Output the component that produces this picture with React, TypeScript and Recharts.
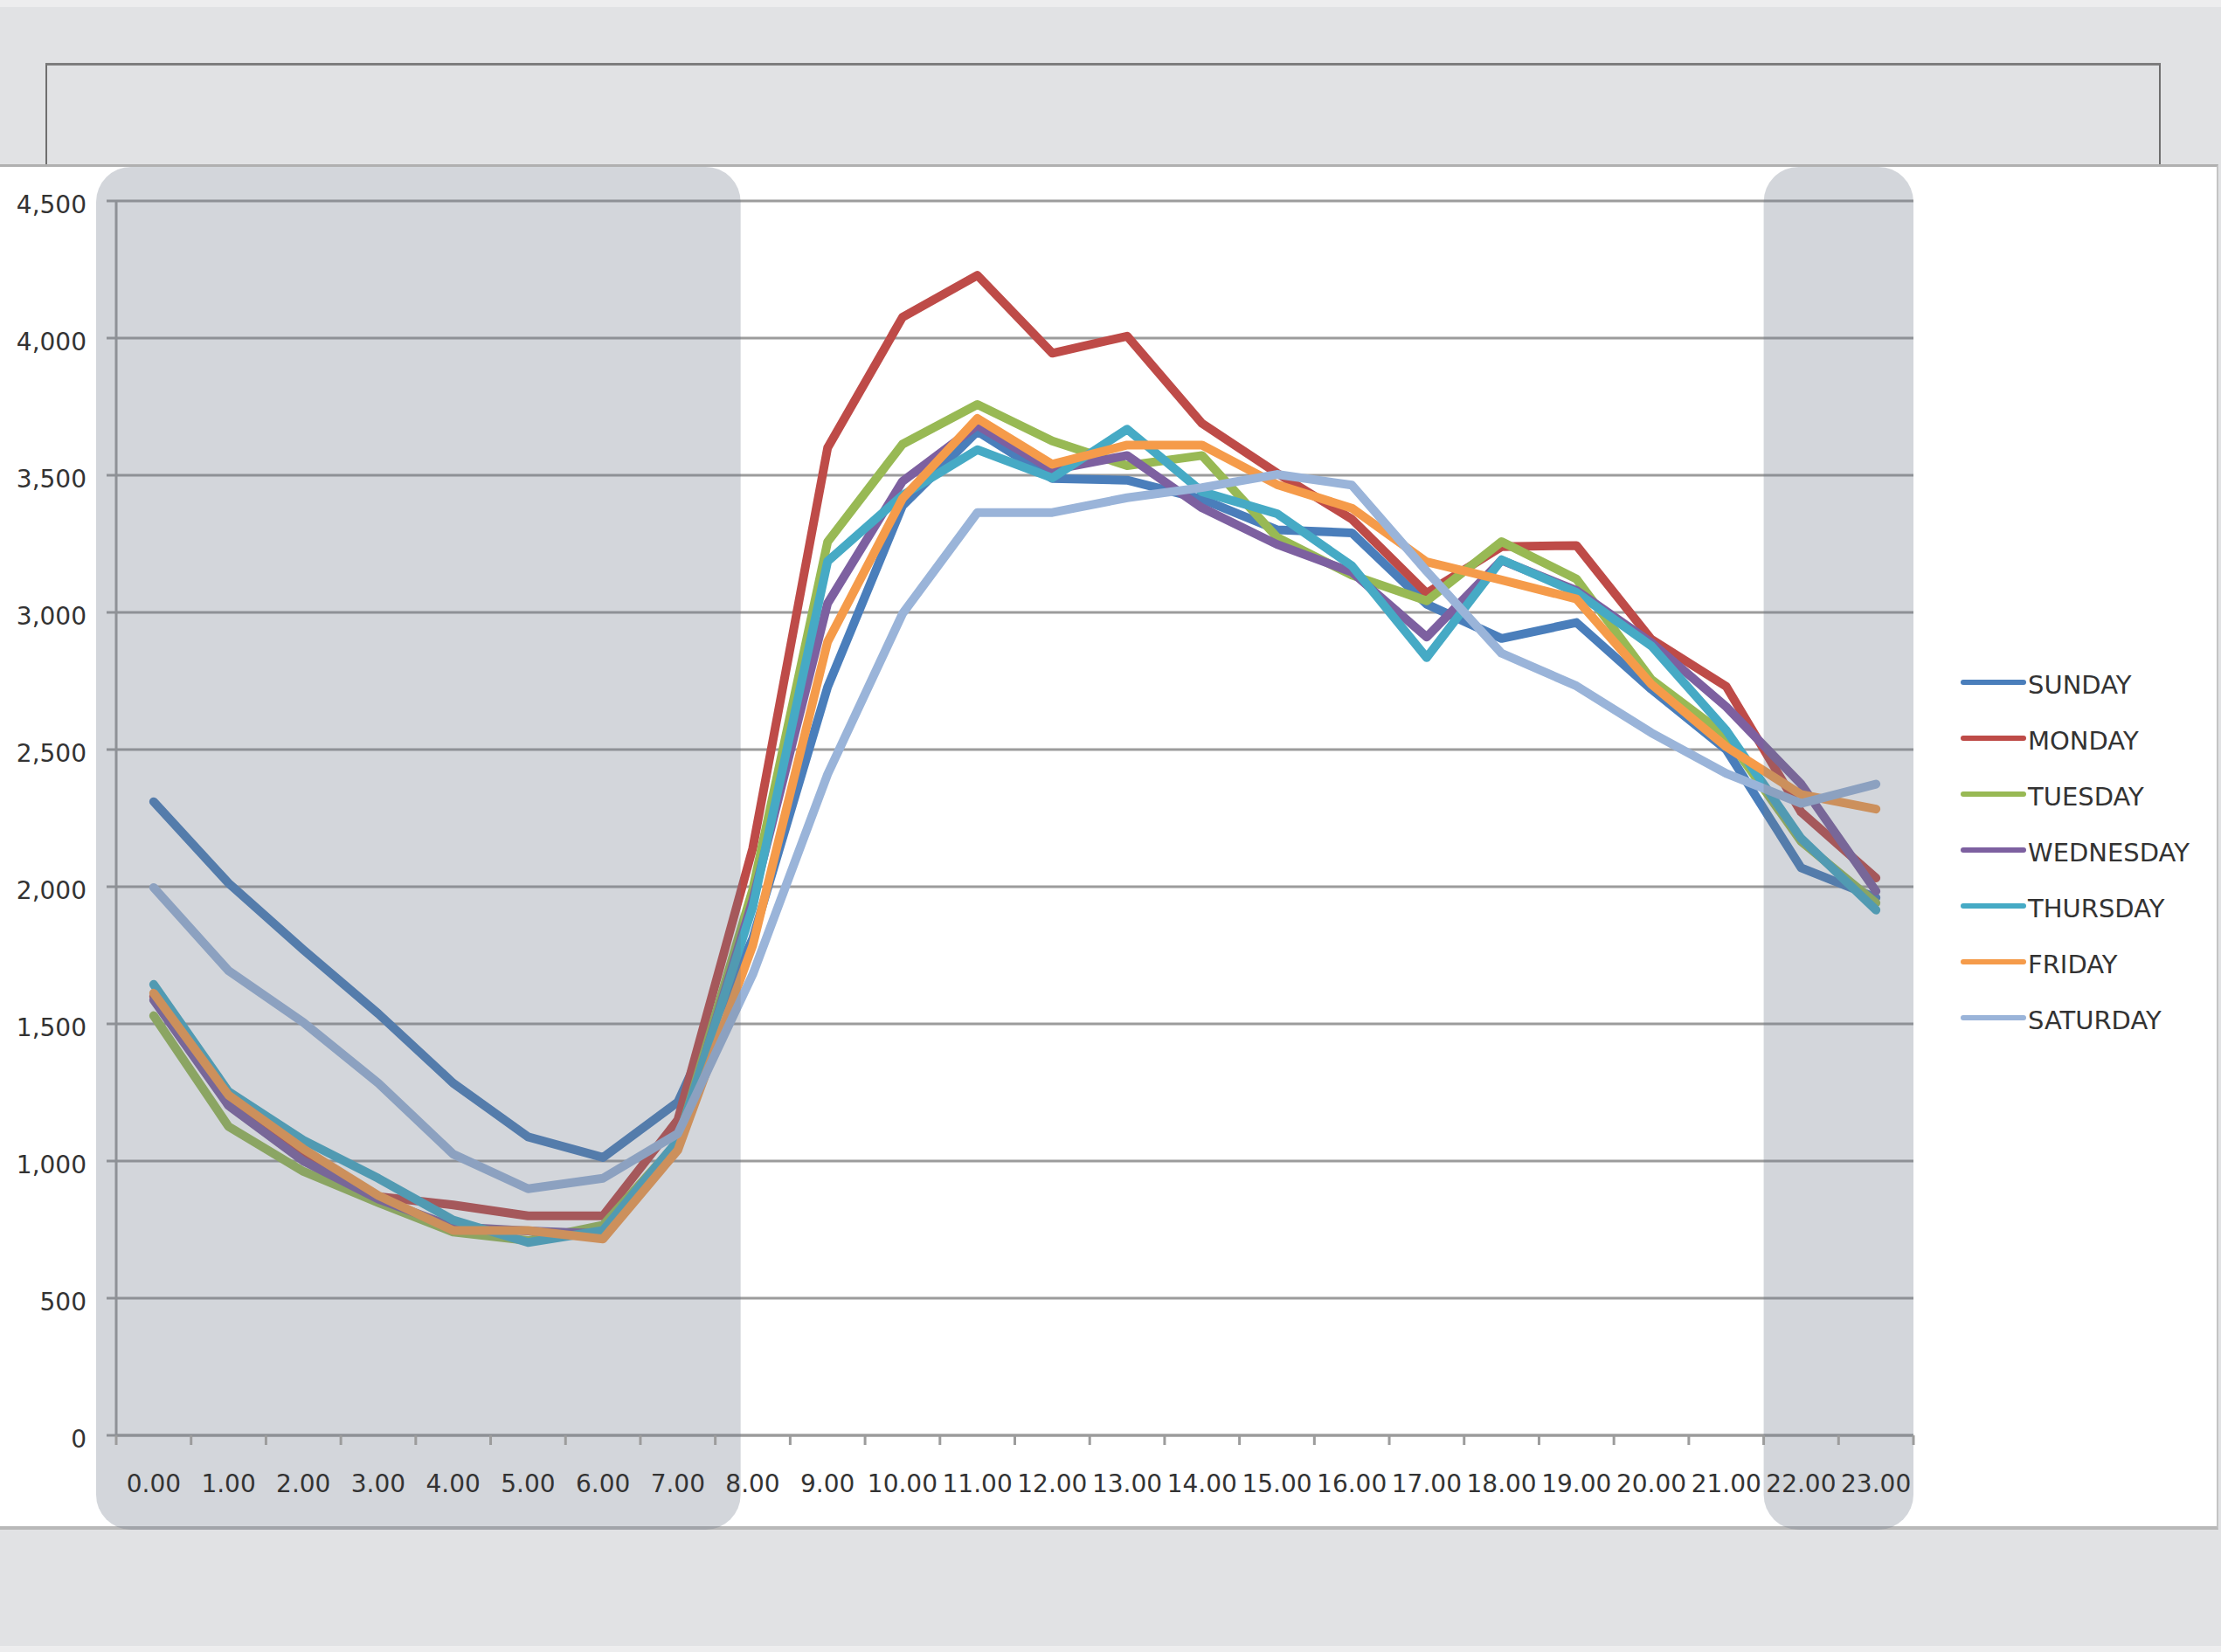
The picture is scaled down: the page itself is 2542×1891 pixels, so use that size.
import React from 'react';
import { LineChart, Line, XAxis, YAxis, CartesianGrid, Legend, ReferenceArea } from 'recharts';

const HOURS = ['0.00','1.00','2.00','3.00','4.00','5.00','6.00','7.00','8.00','9.00','10.00','11.00','12.00','13.00','14.00','15.00','16.00','17.00','18.00','19.00','20.00','21.00','22.00','23.00'];

const SUNDAY = [2310, 2013, 1770, 1537, 1284, 1088, 1013, 1215, 1811, 2728, 3389, 3660, 3488, 3482, 3413, 3301, 3290, 3030, 2905, 2963, 2720, 2500, 2069, 1960];
const MONDAY = [1600, 1230, 1030, 870, 840, 800, 800, 1150, 2140, 3600, 4076, 4229, 3945, 4007, 3689, 3508, 3340, 3070, 3240, 3244, 2902, 2730, 2272, 2032];
const TUESDAY = [1530, 1126, 962, 848, 741, 710, 766, 1070, 1990, 3257, 3613, 3758, 3625, 3535, 3572, 3274, 3136, 3042, 3258, 3122, 2756, 2550, 2165, 1941];
const WEDNESDAY = [1587, 1202, 1000, 861, 760, 745, 735, 1060, 1950, 3033, 3478, 3682, 3520, 3572, 3381, 3248, 3147, 2910, 3190, 3080, 2890, 2656, 2374, 1984];
const THURSDAY = [1644, 1253, 1076, 937, 785, 703, 747, 1075, 1926, 3186, 3427, 3593, 3490, 3668, 3440, 3360, 3170, 2835, 3192, 3073, 2878, 2570, 2176, 1915];
const FRIDAY = [1612, 1240, 1044, 874, 747, 747, 716, 1040, 1786, 2893, 3415, 3707, 3540, 3610, 3610, 3466, 3380, 3184, 3118, 3049, 2738, 2510, 2336, 2283];
const SATURDAY = [1997, 1694, 1505, 1284, 1025, 899, 937, 1100, 1680, 2410, 2995, 3364, 3364, 3418, 3455, 3503, 3464, 3150, 2851, 2732, 2561, 2413, 2304, 2374];

const Y_TICKS = [0, 500, 1000, 1500, 2000, 2500, 3000, 3500, 4000, 4500];

const SERIES = [
  { key: 'SUNDAY', values: SUNDAY, color: '#4a7ebb' },
  { key: 'MONDAY', values: MONDAY, color: '#be4b48' },
  { key: 'TUESDAY', values: TUESDAY, color: '#98b954' },
  { key: 'WEDNESDAY', values: WEDNESDAY, color: '#7d60a0' },
  { key: 'THURSDAY', values: THURSDAY, color: '#46aac5' },
  { key: 'FRIDAY', values: FRIDAY, color: '#f59b4a' },
  { key: 'SATURDAY', values: SATURDAY, color: '#9ab4d9' },
];
const SERIES_ORDER = SERIES.map((s) => s.key);

const data = HOURS.map((h, i) => {
  const row: any = { hour: h };
  SERIES.forEach((s) => { row[s.key] = s.values[i]; });
  return row;
});

const FONT = '"DejaVu Sans", "Liberation Sans", sans-serif';
const GRID = '#9c9c9c';
const TEXT = '#333333';
const PLOT_LEFT = 133;
const PLOT_RIGHT = 2190;
const BAND_HALF = (PLOT_RIGHT - PLOT_LEFT) / HOURS.length / 2;

const XTick = (props: any) => {
  const { x, y, payload, index } = props;
  const half = payload && payload.offset ? payload.offset : BAND_HALF;
  return (
    <g>
      <line x1={x - half} x2={x - half} y1={y} y2={y + 11} stroke={GRID} strokeWidth={3} />
      {index === HOURS.length - 1 && (
        <line x1={x + half} x2={x + half} y1={y} y2={y + 11} stroke={GRID} strokeWidth={3} />
      )}
      <text x={x} y={y + 65} textAnchor="middle" fill={TEXT} fontSize={28} fontFamily={FONT}>
        {payload.value}
      </text>
    </g>
  );
};

const makeShade = (extL: number, extR: number) => (props: any) => {
  const { x, y, width, height } = props;
  return (
    <rect
      x={x - extL}
      y={y - 39}
      width={width + extL + extR}
      height={height + 147}
      rx={40}
      ry={40}
      fill="rgb(108,118,135)"
      fillOpacity={0.3}
    />
  );
};

const LegendContent = (props: any) => {
  const payload = [...(props.payload || [])].sort(
    (a: any, b: any) => SERIES_ORDER.indexOf(a.value) - SERIES_ORDER.indexOf(b.value)
  );
  return (
    <div style={{ fontFamily: FONT }}>
      {payload.map((p: any) => (
        <div key={p.value} style={{ display: 'flex', alignItems: 'center', height: 64 }}>
          <svg width={77} height={12} style={{ display: 'block' }}>
            <line x1={3} x2={72} y1={6} y2={6} stroke={p.color} strokeWidth={6} strokeLinecap="round" />
          </svg>
          <span style={{ fontSize: 29, color: TEXT, lineHeight: '29px', marginTop: 6 }}>{p.value}</span>
        </div>
      ))}
    </div>
  );
};

export default function App() {
  return (
    <div style={{ position: 'absolute', left: 0, top: 0, width: 2542, height: 1891, background: '#e1e2e4', overflow: 'hidden', fontFamily: FONT }}>
      <div style={{ position: 'absolute', left: 0, top: 0, width: 2542, height: 8, background: '#ededee' }} />
      <div style={{ position: 'absolute', left: 0, top: 1884, width: 2542, height: 7, background: '#ededee' }} />
      <div style={{ position: 'absolute', left: 52, top: 72, width: 2421, height: 118, borderTop: '3px solid #7d7d7d', borderLeft: '2px solid #6f6f6f', borderRight: '2px solid #6f6f6f', boxSizing: 'border-box' }} />
      <div style={{ position: 'absolute', left: 0, top: 188, width: 2539, height: 1563, background: '#ffffff', borderTop: '3px solid #b0b0b0', borderBottom: '4px solid #b8b8b8', borderRight: '2px solid #c4c4c4', boxSizing: 'border-box' }} />
      <div style={{ position: 'absolute', left: 0, top: 0 }}>
        <LineChart
          width={2542}
          height={1891}
          data={data}
          margin={{ top: 230, right: 352, left: 0, bottom: 188 }}
        >
          <CartesianGrid vertical={false} stroke={GRID} strokeWidth={3} />
          <XAxis
            dataKey="hour"
            scale="band"
            height={60}
            interval={0}
            tickLine={false}
            tickSize={0}
            tickMargin={0}
            axisLine={{ stroke: GRID, strokeWidth: 3 }}
            tick={<XTick />}
          />
          <YAxis
            width={133}
            domain={[0, 4500]}
            ticks={Y_TICKS}
            interval={0}
            tickSize={11}
            tickMargin={23}
            tickLine={{ stroke: GRID, strokeWidth: 3 }}
            axisLine={{ stroke: GRID, strokeWidth: 3 }}
            tickFormatter={(v: number) => v.toLocaleString('en-US')}
            tick={{ fill: TEXT, fontSize: 28, fontFamily: FONT, dy: 4 }}
          />
          {SERIES.map((s) => (
            <Line
              key={s.key}
              type="linear"
              dataKey={s.key}
              name={s.key}
              stroke={s.color}
              strokeWidth={10}
              strokeLinejoin="round"
              strokeLinecap="round"
              dot={false}
              activeDot={false}
              isAnimationActive={false}
            />
          ))}
          <Legend
            layout="vertical"
            align="center"
            verticalAlign="middle"
            content={<LegendContent />}
            wrapperStyle={{ position: 'absolute', left: 2244, top: 749, width: 295 }}
          />
          <ReferenceArea x1="0.00" x2="7.00" ifOverflow="visible" shape={makeShade(23, 29)} zIndex={1000} />
          <ReferenceArea x1="22.00" x2="23.00" ifOverflow="visible" shape={makeShade(0, 0)} zIndex={1000} />
        </LineChart>
      </div>
    </div>
  );
}
